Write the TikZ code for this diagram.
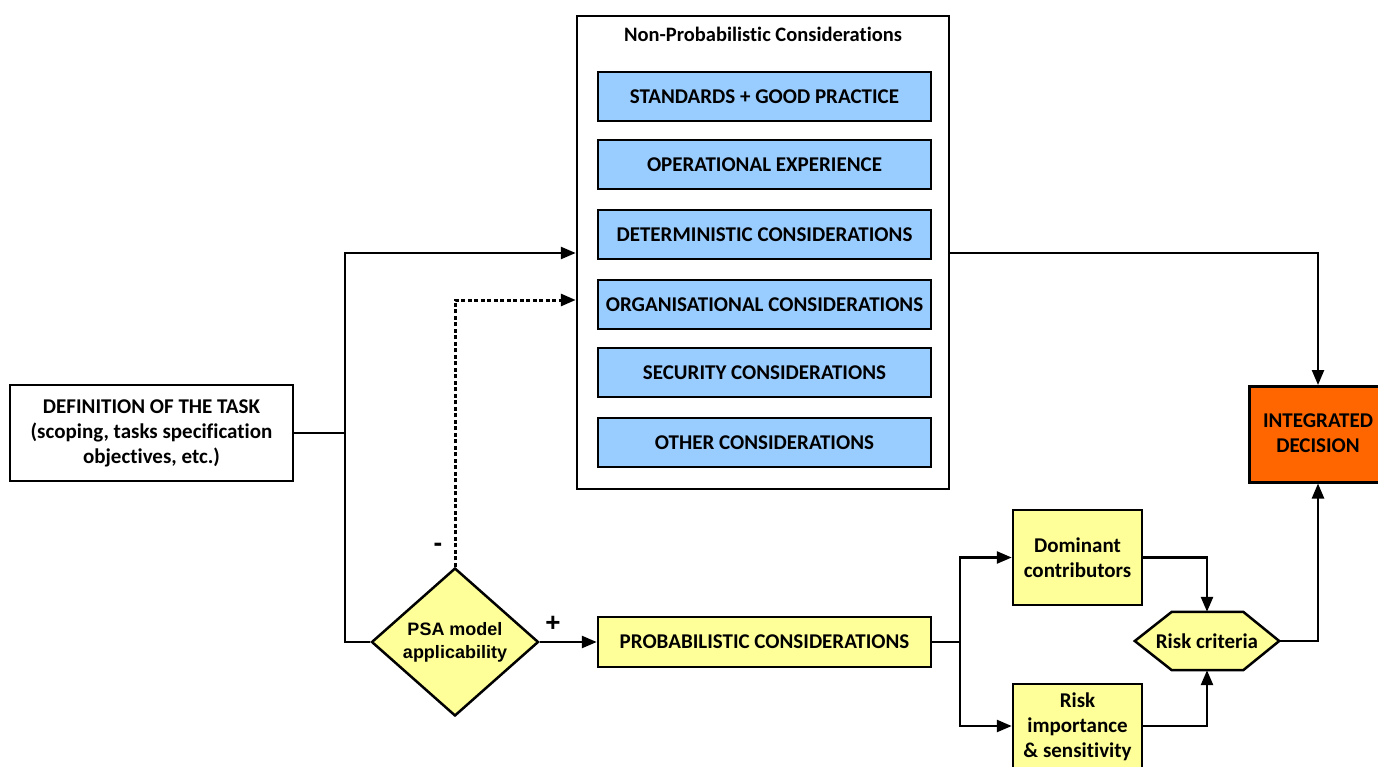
\documentclass[tikz,border=0pt]{standalone}
\usepackage{fontspec}
\setmainfont{Carlito}[Ligatures={NoCommon}]
\newfontfamily\arialfont{Liberation Sans}
\usetikzlibrary{arrows.meta,shapes.geometric}
\definecolor{blueb}{HTML}{99CCFF}
\definecolor{yellowb}{HTML}{FFFF99}
\definecolor{orangeb}{HTML}{FF6600}
\tikzset{
  txt/.style={font=\fontsize{21}{25}\selectfont\bfseries},
  box/.style={draw=black,line width=2.5pt,inner sep=0pt,align=center,txt},
  bluebox/.style={box,fill=blueb,minimum width=333pt,minimum height=49pt},
  ybox/.style={box,fill=yellowb},
  conn/.style={line width=2.5pt,-{Triangle[length=15pt,width=12pt]}},
  plain/.style={line width=2.5pt},
  dotconn/.style={line width=3pt,dash pattern=on 4pt off 2.5pt,-{Triangle[length=15pt,width=12pt]}},
  lbl/.style={font=\fontsize{26}{26}\selectfont\bfseries\arialfont,inner sep=0pt}
}
\begin{document}
\begin{tikzpicture}[x=1pt,y=-1pt]
\useasboundingbox (0,0) rectangle (1378,767);
% big box
\node[draw=black,line width=2.5pt,fill=white,minimum width=372pt,minimum height=473pt,inner sep=0pt] (np) at (763,252.5) {};
\node[font=\fontsize{20.5}{24}\selectfont\bfseries] (nptitle) at (763,34) {Non-Probabilistic Considerations};
\node[bluebox] (b1) at (764.5,96.5) {STANDARDS + GOOD PRACTICE};
\node[bluebox] (b2) at (764.5,164.5) {OPERATIONAL EXPERIENCE};
\node[bluebox] (b3) at (764.5,234.5) {DETERMINISTIC CONSIDERATIONS};
\node[bluebox] (b4) at (764.5,304.5) {ORGANISATIONAL CONSIDERATIONS};
\node[bluebox] (b5) at (764.5,372.5) {SECURITY CONSIDERATIONS};
\node[bluebox] (b6) at (764.5,442.5) {OTHER CONSIDERATIONS};
% left box
\node[box,fill=white,minimum width=283pt,minimum height=96pt] (def) at (151.5,433) {DEFINITION OF THE TASK\\(scoping, tasks specification\\objectives, etc.)};
% diamond
\node[diamond,draw=black,line width=2.5pt,fill=yellowb,minimum width=167pt,minimum height=148pt,inner sep=0pt,align=center,font=\fontsize{18}{23}\selectfont\bfseries\arialfont] (psa) at (455,642) {PSA model\\applicability};
% probabilistic
\node[ybox,minimum width=333pt,minimum height=50pt] (prob) at (764.5,642) {PROBABILISTIC CONSIDERATIONS};
% dominant
\node[ybox,minimum width=129pt,minimum height=95pt] (dom) at (1077.5,557.5) {Dominant\\contributors};
\node[ybox,minimum width=129pt,minimum height=100pt,anchor=north] (rim) at (1077.5,682.5) {};
\node[txt,align=center,anchor=north,inner sep=0pt] (rimt) at (1077.5,693) {Risk\\importance\\\& sensitivity};
% hexagon
\node[minimum width=144pt,minimum height=58pt,inner sep=0pt] (hx) at (1207,641) {};
\draw[plain,fill=yellowb,line join=miter] (hx.west) -- ([xshift=37pt]hx.north west) -- ([xshift=-36pt]hx.north east) -- (hx.east) -- ([xshift=-36pt]hx.south east) -- ([xshift=37pt]hx.south west) -- cycle;
\node[txt] (hxt) at (1207,641) {Risk criteria};
% integrated
\node[box,fill=orangeb,minimum width=150pt,minimum height=96pt,anchor=north west] (int) at (1248,385) {};
\node[txt,align=center] (intt) at (1318,433) {INTEGRATED\\DECISION};
% coordinates
\coordinate (j1) at (345,433);
\coordinate (top) at (345,253);
\coordinate (bot) at (345,642);
\coordinate (dtop) at (455,300);
\coordinate (sp) at (960,642);
\coordinate (spt) at (960,557.5);
\coordinate (spb) at (960,726);
\coordinate (rt) at (1318,253);
% connectors
\draw[plain] (def.east) -- (j1);
\draw[conn] (j1) -- (top) -- (np.west |- top);
\draw[plain] (j1) -- (bot) -- (psa.west);
\draw[dotconn] (psa.north) -- (dtop) -- (np.west |- dtop);
\node[lbl] (minus) at (438,547) {-};
\node[lbl] (plus) at (553,624) {+};
\draw[conn] (psa.east) -- (prob.west);
\draw[plain] (prob.east) -- (sp);
\draw[conn] (sp) -- (spt) -- (dom.west);
\draw[conn] (sp) -- (spb) -- (rim.west |- spb);
\draw[conn] (dom.east) -| (hx.north);
\draw[conn] (rim.east |- spb) -| (hx.south);
\draw[conn] (hx.east) -| (int.south -| intt);
\draw[conn] (np.east |- rt) -- (rt) -- (int.north -| intt);
\end{tikzpicture}
\end{document}
